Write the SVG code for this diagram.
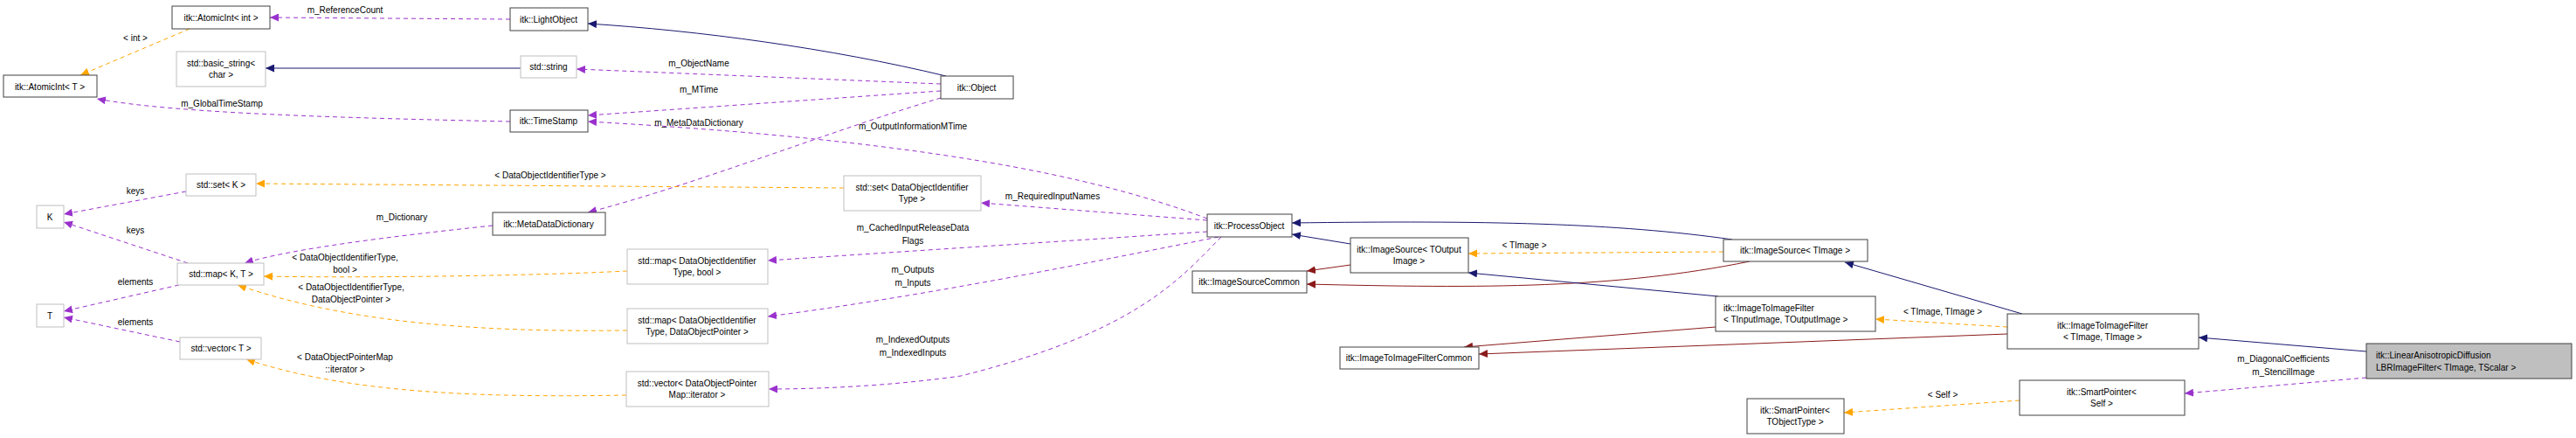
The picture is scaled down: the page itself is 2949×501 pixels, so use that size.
<svg xmlns="http://www.w3.org/2000/svg" width="2949" height="501" viewBox="0 0 2949 501">
<style>
text{font-family:"Liberation Sans",Arial,sans-serif;font-size:10px;fill:#000;text-anchor:middle}
.n rect{fill:#fff;stroke:#404040;stroke-width:1}
.g rect{fill:#fff;stroke:#bfbfbf;stroke-width:1}
.c path{fill:none;stroke-width:1}
.p{stroke:#9a32cd;stroke-dasharray:5,4}
.o{stroke:#ffa500;stroke-dasharray:5,4}
.b{stroke:#191970}
.r{stroke:#8b1a1a}
.pm{marker-end:url(#ap)}.om{marker-end:url(#ao)}.bm{marker-end:url(#ab)}.rm{marker-end:url(#ar)}
</style>
<defs>
<marker id="ap" markerUnits="userSpaceOnUse" markerWidth="11" markerHeight="9" refX="10" refY="4.5" orient="auto"><path d="M0,0L10,4.5L0,9z" fill="#9a32cd"/></marker>
<marker id="ao" markerUnits="userSpaceOnUse" markerWidth="11" markerHeight="9" refX="10" refY="4.5" orient="auto"><path d="M0,0L10,4.5L0,9z" fill="#ffa500"/></marker>
<marker id="ab" markerUnits="userSpaceOnUse" markerWidth="11" markerHeight="9" refX="10" refY="4.5" orient="auto"><path d="M0,0L10,4.5L0,9z" fill="#191970"/></marker>
<marker id="ar" markerUnits="userSpaceOnUse" markerWidth="11" markerHeight="9" refX="10" refY="4.5" orient="auto"><path d="M0,0L10,4.5L0,9z" fill="#8b1a1a"/></marker>
</defs>
<rect width="2949" height="501" fill="#fff"/>
<g class="c">
<path class="p pm" d="M584,22L309,20"/>
<path class="o om" d="M217,33L92,86"/>
<path class="p pm" d="M584,139C400,135 200,130 111,113"/>
<path class="b bm" d="M596,78L304,78"/>
<path class="b bm" d="M1083,87C950,55 800,35 673,27"/>
<path class="p pm" d="M1077,96L660,79"/>
<path class="p pm" d="M1077,104L673,132"/>
<path class="p pm" d="M1077,112C950,150 800,210 673,243"/>
<path class="p pm" d="M1382,250C1250,200 1050,160 673,139"/>
<path class="o om" d="M966,215L293,210"/>
<path class="p pm" d="M1382,252L1123,232"/>
<path class="p pm" d="M1382,265L879,298"/>
<path class="p pm" d="M1395,271C1250,300 1050,340 879,362"/>
<path class="p pm" d="M1398,271C1350,320 1300,380 1100,430C1030,440 950,445 880,445"/>
<path class="p pm" d="M564,258C450,270 330,285 280,301"/>
<path class="p pm" d="M213,219L73,245"/>
<path class="p pm" d="M215,301L73,254"/>
<path class="p pm" d="M205,326L73,356"/>
<path class="p pm" d="M206,391L73,363"/>
<path class="o om" d="M718,310C600,316 400,318 302,316"/>
<path class="o om" d="M718,378C550,380 400,370 272,326"/>
<path class="o om" d="M717,452C550,455 400,450 282,411"/>
<path class="b bm" d="M1546,279L1479,268"/>
<path class="r rm" d="M1546,303L1496,310"/>
<path class="b bm" d="M1983,274C1850,255 1700,252 1479,255"/>
<path class="r rm" d="M2003,299C1850,330 1700,330 1496,325"/>
<path class="o om" d="M1973,288L1681,290"/>
<path class="b bm" d="M1967,339L1681,312"/>
<path class="r rm" d="M1964,374L1676,397"/>
<path class="b bm" d="M2315,359L2112,300"/>
<path class="r rm" d="M2298,382L1693,405"/>
<path class="o om" d="M2298,374L2147,365"/>
<path class="b bm" d="M2709,402L2517,386"/>
<path class="p pm" d="M2709,432L2501,450"/>
<path class="o om" d="M2312,458L2111,472"/>
</g>
<g>
<text x="395" y="15">m_ReferenceCount</text>
<text x="155" y="47">&lt; int &gt;</text>
<text x="254" y="122">m_GlobalTimeStamp</text>
<text x="800" y="76">m_ObjectName</text>
<text x="800" y="106">m_MTime</text>
<text x="800" y="144">m_MetaDataDictionary</text>
<text x="1045" y="148">m_OutputInformationMTime</text>
<text x="630" y="204">&lt; DataObjectIdentifierType &gt;</text>
<text x="1205" y="228">m_RequiredInputNames</text>
<text x="1045" y="264">m_CachedInputReleaseData</text>
<text x="1045" y="279">Flags</text>
<text x="1045" y="312">m_Outputs</text>
<text x="1045" y="327">m_Inputs</text>
<text x="1045" y="392">m_IndexedOutputs</text>
<text x="1045" y="407">m_IndexedInputs</text>
<text x="460" y="252">m_Dictionary</text>
<text x="155" y="222">keys</text>
<text x="155" y="267">keys</text>
<text x="155" y="326">elements</text>
<text x="155" y="372">elements</text>
<text x="395" y="298">&lt; DataObjectIdentifierType,</text>
<text x="395" y="312">bool &gt;</text>
<text x="402" y="332">&lt; DataObjectIdentifierType,</text>
<text x="402" y="346">DataObjectPointer &gt;</text>
<text x="395" y="412">&lt; DataObjectPointerMap</text>
<text x="395" y="426">::iterator &gt;</text>
<text x="1745" y="284">&lt; TImage &gt;</text>
<text x="2224" y="360">&lt; TImage, TImage &gt;</text>
<text x="2614" y="414">m_DiagonalCoefficients</text>
<text x="2614" y="429">m_StencilImage</text>
<text x="2224" y="455">&lt; Self &gt;</text>
</g>
<g id="atomicint_int" class="n"><rect x="197" y="7" width="112" height="26"/><text x="253" y="24">itk::AtomicInt&lt; int &gt;</text></g>
<g id="atomicint_t" class="n"><rect x="4" y="86" width="107" height="25"/><text x="57" y="103">itk::AtomicInt&lt; T &gt;</text></g>
<g id="basic_string" class="g"><rect x="202" y="59" width="102" height="40"/><text x="253" y="76">std::basic_string&lt;</text><text x="253" y="89">char &gt;</text></g>
<g id="set_k" class="g"><rect x="213" y="199" width="80" height="25"/><text x="253" y="215">std::set&lt; K &gt;</text></g>
<g id="k" class="g"><rect x="42" y="235" width="31" height="26"/><text x="57" y="252">K</text></g>
<g id="map_kt" class="g"><rect x="203" y="301" width="99" height="25"/><text x="253" y="317">std::map&lt; K, T &gt;</text></g>
<g id="t" class="g"><rect x="42" y="348" width="31" height="26"/><text x="57" y="365">T</text></g>
<g id="vector_t" class="g"><rect x="206" y="386" width="93" height="25"/><text x="253" y="402">std::vector&lt; T &gt;</text></g>
<g id="lightobject" class="n"><rect x="584" y="9" width="89" height="26"/><text x="628" y="26">itk::LightObject</text></g>
<g id="std_string" class="g"><rect x="596" y="64" width="64" height="25"/><text x="628" y="80">std::string</text></g>
<g id="timestamp" class="n"><rect x="584" y="126" width="89" height="25"/><text x="628" y="142">itk::TimeStamp</text></g>
<g id="metadatadictionary" class="n"><rect x="564" y="243" width="129" height="26"/><text x="628" y="260">itk::MetaDataDictionary</text></g>
<g id="map_doi_bool" class="g"><rect x="718" y="285" width="161" height="40"/><text x="798" y="302">std::map&lt; DataObjectIdentifier</text><text x="798" y="315">Type, bool &gt;</text></g>
<g id="map_doi_dop" class="g"><rect x="718" y="353" width="161" height="40"/><text x="798" y="370">std::map&lt; DataObjectIdentifier</text><text x="798" y="383">Type, DataObjectPointer &gt;</text></g>
<g id="vector_dopm" class="g"><rect x="717" y="425" width="163" height="40"/><text x="798" y="442">std::vector&lt; DataObjectPointer</text><text x="798" y="455">Map::iterator &gt;</text></g>
<g id="set_doi" class="g"><rect x="966" y="201" width="157" height="40"/><text x="1044" y="218">std::set&lt; DataObjectIdentifier</text><text x="1044" y="231">Type &gt;</text></g>
<g id="object" class="n"><rect x="1077" y="87" width="83" height="26"/><text x="1118" y="104">itk::Object</text></g>
<g id="processobject" class="n"><rect x="1382" y="245" width="97" height="26"/><text x="1430" y="262">itk::ProcessObject</text></g>
<g id="imagesourcecommon" class="n"><rect x="1365" y="310" width="131" height="25"/><text x="1430" y="326">itk::ImageSourceCommon</text></g>
<g id="imagesource_tout" class="n"><rect x="1546" y="272" width="135" height="40"/><text x="1613" y="289">itk::ImageSource&lt; TOutput</text><text x="1613" y="302">Image &gt;</text></g>
<g id="imagetoimagefiltercommon" class="n"><rect x="1534" y="397" width="159" height="25"/><text x="1613" y="413">itk::ImageToImageFilterCommon</text></g>
<g id="imagesource_timage" class="n"><rect x="1973" y="274" width="165" height="25"/><text x="2055" y="290">itk::ImageSource&lt; TImage &gt;</text></g>
<g id="itif_tin_tout" class="n"><rect x="1964" y="339" width="183" height="40"/><text x="1973" y="356" style="text-anchor:start">itk::ImageToImageFilter</text><text x="1973" y="369" style="text-anchor:start">&lt; TInputImage, TOutputImage &gt;</text></g>
<g id="itif_timage" class="n"><rect x="2298" y="359" width="219" height="40"/><text x="2407" y="376">itk::ImageToImageFilter</text><text x="2407" y="389">&lt; TImage, TImage &gt;</text></g>
<g id="smartpointer_tobj" class="n"><rect x="2000" y="456" width="111" height="40"/><text x="2055" y="473">itk::SmartPointer&lt;</text><text x="2055" y="486">TObjectType &gt;</text></g>
<g id="smartpointer_self" class="n"><rect x="2312" y="435" width="189" height="40"/><text x="2406" y="452">itk::SmartPointer&lt;</text><text x="2406" y="465">Self &gt;</text></g>
<g id="linear" class="n"><rect x="2709" y="393" width="235" height="40" style="fill:#bfbfbf"/><text x="2720" y="410" style="text-anchor:start">itk::LinearAnisotropicDiffusion</text><text x="2720" y="424" style="text-anchor:start">LBRImageFilter&lt; TImage, TScalar &gt;</text></g>
</svg>
